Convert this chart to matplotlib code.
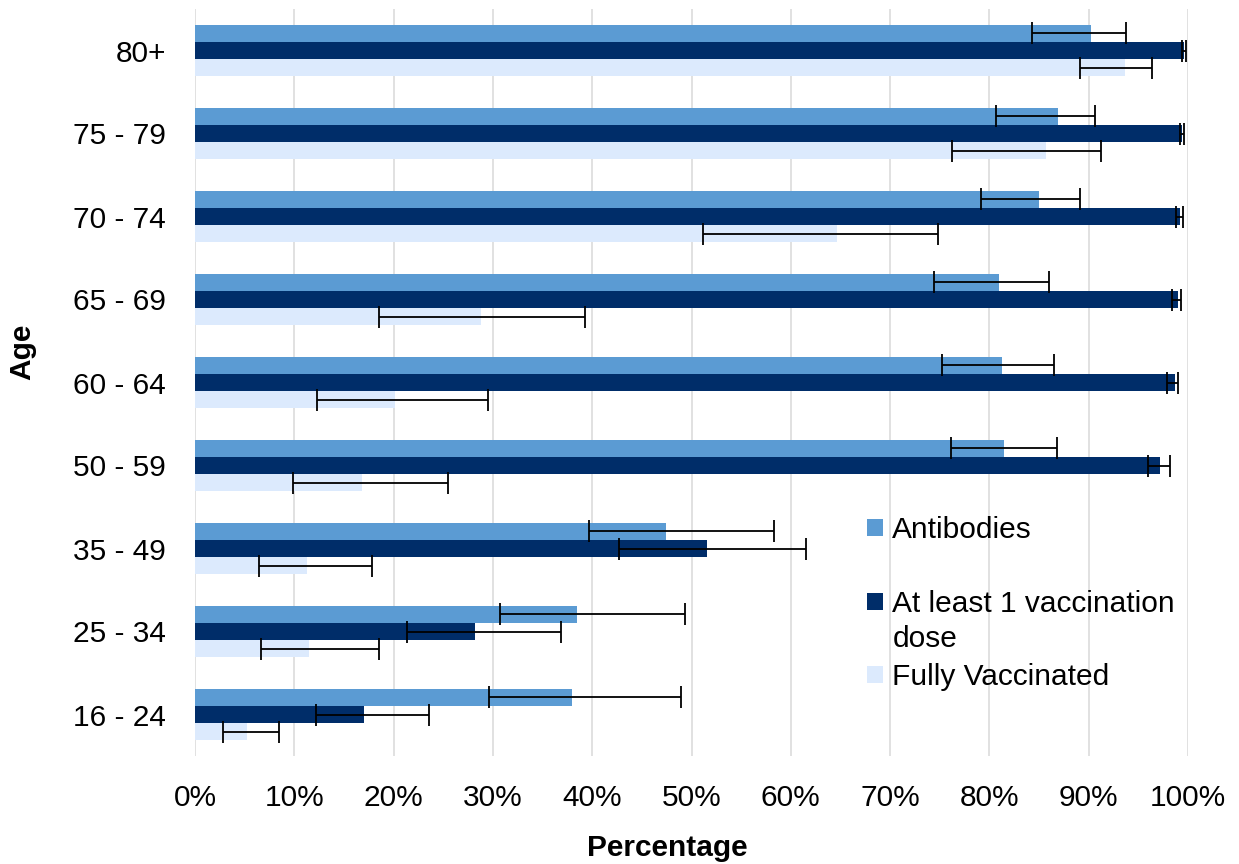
import matplotlib
matplotlib.use("Agg")
import matplotlib.pyplot as plt
import numpy as np

plt.rcParams['font.family'] = ['Liberation Sans', 'DejaVu Sans']

ages = ['16 - 24', '25 - 34', '35 - 49', '50 - 59', '60 - 64', '65 - 69', '70 - 74', '75 - 79', '80+']
antibodies = [38.0, 38.5, 47.4, 81.5, 81.3, 81.0, 85.0, 86.9, 90.2]
antibodies_lo = [29.6, 30.7, 39.7, 76.1, 75.2, 74.4, 79.2, 80.7, 84.3]
antibodies_hi = [48.9, 49.3, 58.3, 86.8, 86.5, 86.0, 89.1, 90.6, 93.8]
dose = [17.0, 28.2, 51.6, 97.2, 98.7, 99.0, 99.2, 99.4, 99.6]
dose_lo = [12.2, 21.3, 42.7, 96.0, 97.9, 98.4, 98.8, 99.2, 99.4]
dose_hi = [23.6, 36.9, 61.5, 98.2, 99.0, 99.3, 99.5, 99.6, 99.8]
fully = [5.2, 11.5, 11.3, 16.8, 20.1, 28.8, 64.7, 85.7, 93.7]
fully_lo = [2.8, 6.6, 6.4, 9.9, 12.3, 18.5, 51.2, 76.2, 89.1]
fully_hi = [8.5, 18.5, 17.8, 25.5, 29.5, 39.3, 74.8, 91.2, 96.4]
series_names = ['Antibodies', 'At least 1 vaccination dose', 'Fully Vaccinated']
xticks = [0, 10, 20, 30, 40, 50, 60, 70, 80, 90, 100]

colors = ['#5B9BD3', '#002D69', '#DCEAFD']
fs = 21.5

fig = plt.figure(figsize=(12.39, 8.64), dpi=100)
ax = fig.add_axes([195/1239, 1 - 756/864, (1188-195)/1239, (756-9)/864])

y = np.arange(len(ages))
h = 0.205
series = [(antibodies, antibodies_lo, antibodies_hi, h),
          (dose, dose_lo, dose_hi, 0.0),
          (fully, fully_lo, fully_hi, -h)]
for (vals, lo, hi, off), c, name in zip(series, colors, series_names):
    vals = np.array(vals); lo = np.array(lo); hi = np.array(hi)
    ax.barh(y + off, vals, height=h, color=c, label=name, zorder=2)
    ax.errorbar(vals, y + off, xerr=[vals - lo, hi - vals], fmt='none',
                ecolor='black', elinewidth=1.3, capsize=8, capthick=1.3, zorder=3)

ax.set_xlim(0, 100)
ax.set_ylim(-0.5, len(ages) - 0.5)
ax.set_xticks(xticks)
ax.set_xticklabels([f'{t}%' for t in xticks], fontsize=fs)
ax.set_yticks(y)
ax.set_yticklabels(ages, fontsize=fs)
ax.tick_params(axis='both', length=0)
ax.tick_params(axis='y', pad=21)
ax.tick_params(axis='x', pad=20)
ax.grid(axis='x', color='#D9D9D9', linewidth=1.1, zorder=0)
ax.set_axisbelow(True)
for s in ax.spines.values():
    s.set_visible(False)

fig.text(667/1239, 1 - 848/864, 'Percentage', fontsize=fs, fontweight='bold',
         ha='center', va='center')
fig.text(22/1239, 1 - 352/864, 'Age', fontsize=fs, fontweight='bold',
         ha='center', va='center', rotation=90)

handles, labels = ax.get_legend_handles_labels()
labels = ['Antibodies', 'At least 1 vaccination', 'Fully Vaccinated']
leg = ax.legend(handles, labels, loc='upper left',
                bbox_to_anchor=(867/1239, 1 - 516/864), bbox_transform=fig.transFigure,
                frameon=False, fontsize=fs, handlelength=0.55, handleheight=0.5,
                handletextpad=0.3, labelspacing=1.53, borderpad=0, borderaxespad=0)
fig.canvas.draw()
t = leg.get_texts()[1]
bb = t.get_window_extent()
fig.text(bb.x0 / fig.bbox.width, (bb.y0 - 35 + bb.height / 2) / fig.bbox.height, 'dose',
         fontsize=fs, ha='left', va='center')

fig.savefig('out.png', dpi=100)
